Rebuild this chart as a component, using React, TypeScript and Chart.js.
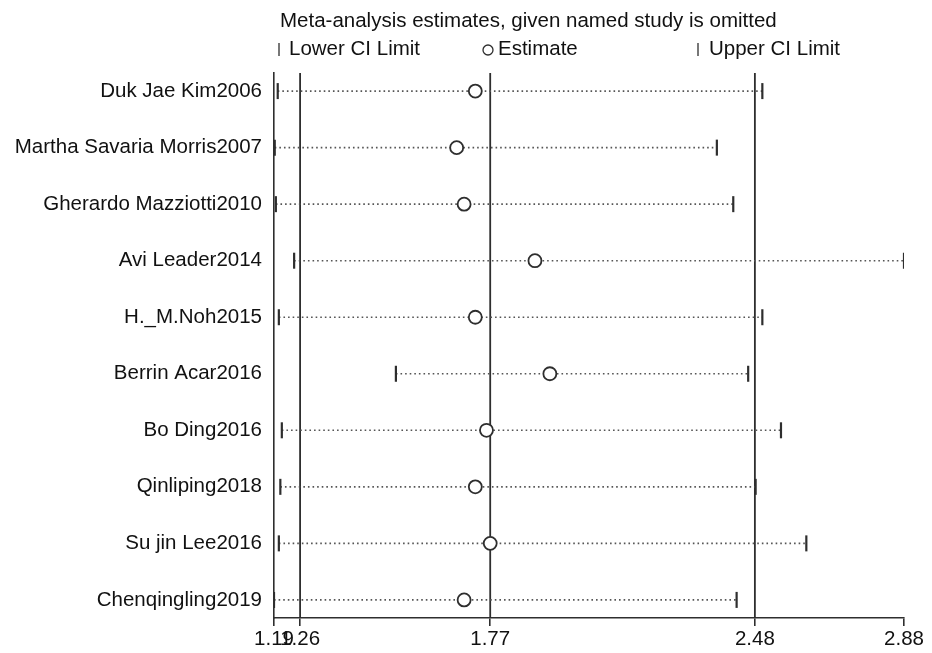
import React, { useEffect, useRef } from "react";
import { Chart, registerables } from "chart.js";

Chart.register(...registerables);

const studies = [
  "Duk Jae Kim2006",
  "Martha Savaria Morris2007",
  "Gherardo Mazziotti2010",
  "Avi Leader2014",
  "H._M.Noh2015",
  "Berrin Acar2016",
  "Bo Ding2016",
  "Qinliping2018",
  "Su jin Lee2016",
  "Chenqingling2019",
];
const estimate = [1.73, 1.68, 1.70, 1.89, 1.73, 1.93, 1.76, 1.73, 1.77, 1.70];
const lowerCI = [1.2, 1.192, 1.195, 1.244, 1.203, 1.517, 1.211, 1.207, 1.203, 1.19];
const upperCI = [2.5, 2.378, 2.422, 2.88, 2.5, 2.462, 2.55, 2.482, 2.618, 2.431];
const refLines = [1.26, 1.77, 2.48];
const xTicks = [1.19, 1.26, 1.77, 2.48, 2.88];
const xTickLabels = ["1.19", "1.26", "1.77", "2.48", "2.88"];
const titleText = "Meta-analysis estimates, given named study is omitted";
const legendLabels = ["Lower CI Limit", "Estimate", "Upper CI Limit"];

const FONT = "'Liberation Sans', Arial, Helvetica, sans-serif";
const INK = "#2e2e2e";
const TEXT = "#111111";
const Y_MIN = -0.32;
const Y_MAX = 9.32;

const headerPlugin = {
  id: "header",
  afterDraw(chart: any) {
    const ctx = chart.ctx;
    const left = chart.chartArea.left;
    ctx.save();
    ctx.fillStyle = TEXT;
    ctx.font = `20.5px ${FONT}`;
    ctx.textBaseline = "middle";
    ctx.textAlign = "left";
    ctx.fillText(titleText, left + 6, 21);
    const ly = 49;
    ctx.strokeStyle = INK;
    ctx.lineWidth = 1.3;
    // lower
    ctx.beginPath();
    ctx.moveTo(left + 5, ly - 6);
    ctx.lineTo(left + 5, ly + 7);
    ctx.stroke();
    ctx.fillText(legendLabels[0], left + 15, ly);
    // estimate
    ctx.beginPath();
    ctx.arc(left + 214, ly + 1, 5, 0, Math.PI * 2);
    ctx.stroke();
    ctx.fillText(legendLabels[1], left + 224, ly);
    // upper
    ctx.beginPath();
    ctx.moveTo(left + 424, ly - 6);
    ctx.lineTo(left + 424, ly + 7);
    ctx.stroke();
    ctx.fillText(legendLabels[2], left + 435, ly);
    ctx.restore();
  },
};

export default function App() {
  const canvasRef = useRef<HTMLCanvasElement | null>(null);

  useEffect(() => {
    if (!canvasRef.current) return;
    Chart.defaults.font.family = FONT;

    const ciData: any[] = [];
    studies.forEach((_, i) => {
      ciData.push({ x: lowerCI[i], y: i });
      ciData.push({ x: upperCI[i], y: i });
      ciData.push({ x: upperCI[i], y: null });
    });

    const refDatasets = refLines.map((v) => ({
      type: "line" as const,
      data: [
        { x: v, y: Y_MIN },
        { x: v, y: Y_MAX },
      ],
      borderColor: INK,
      borderWidth: 1.8,
      pointRadius: 0,
      showLine: true,
    }));

    const chart = new Chart(canvasRef.current, {
      type: "scatter",
      data: {
        datasets: [
          {
            label: "Estimate",
            data: studies.map((_, i) => ({ x: estimate[i], y: i })),
            pointStyle: "circle",
            pointRadius: 6.5,
            borderWidth: 1.8,
            borderColor: INK,
            backgroundColor: "#ffffff",
          },
          {
            label: "Lower CI Limit",
            data: studies.map((_, i) => ({ x: lowerCI[i], y: i })),
            pointStyle: "line",
            rotation: 90,
            pointRadius: 8,
            borderWidth: 2.2,
            borderColor: INK,
          },
          {
            label: "Upper CI Limit",
            data: studies.map((_, i) => ({ x: upperCI[i], y: i })),
            pointStyle: "line",
            rotation: 90,
            pointRadius: 8,
            borderWidth: 2.2,
            borderColor: INK,
          },
          {
            type: "line" as const,
            label: "CI",
            data: ciData,
            borderColor: "#555555",
            borderWidth: 1.6,
            borderDash: [1.6, 3],
            pointRadius: 0,
            showLine: true,
            spanGaps: false,
          },
          ...refDatasets,
        ] as any,
      },
      options: {
        animation: false,
        responsive: true,
        maintainAspectRatio: false,
        layout: { padding: { top: 73, right: 28, bottom: 0, left: 0 } },
        plugins: {
          legend: { display: false },
          tooltip: { enabled: false },
          title: { display: false },
        },
        scales: {
          x: {
            type: "linear",
            min: 1.19,
            max: 2.88,
            afterBuildTicks: (s: any) => {
              s.ticks = xTicks.map((v) => ({ value: v }));
            },
            afterFit: (s: any) => {
              s.height = 35;
            },
            ticks: {
              autoSkip: false,
              maxRotation: 0,
              padding: 1,
              color: TEXT,
              font: { size: 20.5, family: FONT },
              callback: (v: any) => {
                const idx = xTicks.indexOf(Number(v));
                return idx >= 0 ? xTickLabels[idx] : "";
              },
            },
            grid: {
              drawOnChartArea: false,
              drawTicks: true,
              tickLength: 8,
              color: INK,
              lineWidth: 1.6,
            },
            border: { display: true, color: INK, width: 1.6 },
          },
          y: {
            type: "linear",
            min: Y_MIN,
            max: Y_MAX,
            reverse: true,
            afterBuildTicks: (s: any) => {
              s.ticks = studies.map((_, i) => ({ value: i }));
            },
            afterFit: (s: any) => {
              s.width = 274;
            },
            ticks: {
              autoSkip: false,
              padding: 12,
              color: TEXT,
              font: { size: 20.5, family: FONT },
              callback: (v: any) => studies[Number(v)] ?? "",
            },
            grid: { drawOnChartArea: false, drawTicks: false },
            border: { display: true, color: INK, width: 1.6 },
          },
        },
      } as any,
      plugins: [headerPlugin],
    });

    return () => chart.destroy();
  }, []);

  return (
    <div style={{ position: "fixed", left: 0, top: 0, width: 932, height: 653, background: "#fff" }}>
      <canvas ref={canvasRef} />
    </div>
  );
}
